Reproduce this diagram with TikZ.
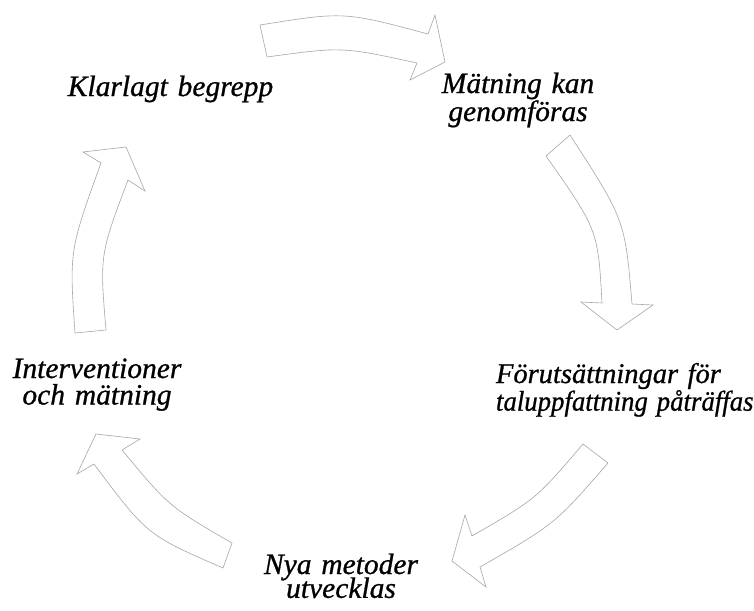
\documentclass[tikz,border=0pt]{standalone}
\usepackage{fontspec}
\setmainfont{Liberation Serif}[ItalicFeatures={FakeBold=0.8}]
\tikzset{
  blockarrow/.style={draw=gray!70, line width=0.6pt, fill=white, line join=miter},
  lbl/.style={font=\fontsize{29.5}{26.5}\selectfont\itshape, inner sep=0pt, text width=300pt, align=center, anchor=base}
}
\begin{document}
\begin{tikzpicture}[x=1pt,y=-1pt]
\useasboundingbox (0,0) rectangle (754,610);
% top arrow
\draw[blockarrow] (260,25) .. controls (344,11.5) .. (428,34) -- (435,15) -- (445,62) -- (410,80) -- (417,63) .. controls (342,46.7) .. (267,57) -- cycle;
% right arrow
\draw[blockarrow] (570,135) .. controls (625,220) .. (632,304) -- (653,305) -- (617,330) -- (581,302) -- (602,303) .. controls (598,230) .. (546,156) -- cycle;
% bottom right arrow
\draw[blockarrow] (583,444) .. controls (536,499) .. (472,536) -- (465,515) -- (452,561) -- (486,587) -- (480,567) .. controls (555,524) .. (608,463) -- cycle;
% bottom left arrow
\draw[blockarrow] (232,543) .. controls (169,506.5) .. (122,450) -- (140,439) -- (96,434) -- (77,474) -- (94,464) .. controls (147,535) .. (223,568) -- cycle;
% left arrow
\draw[blockarrow] (106,330) .. controls (99.7,255) .. (128,180) -- (145,191) -- (126,147) -- (83,152) -- (101,163) .. controls (69.3,250.7) .. (75,333) -- cycle;
% labels
\node[lbl] (klar) at (170.5,96) {Klarlagt begrepp};
\node[lbl] (matn) at (518,93) {Mätning kan\\genomföras};
\node[lbl, font=\fontsize{28.5}{26}\selectfont\itshape, text width=260pt, align=left] (forut) at (626,383) {Förutsättningar för\\\scalebox{0.94}[1]{taluppfattning påträffas}};
\node[lbl] (inter) at (97,378) {Interventioner\\och mätning};
\node[lbl] (nya) at (341,574) {Nya metoder\\[-4pt]utvecklas};
\end{tikzpicture}
\end{document}
